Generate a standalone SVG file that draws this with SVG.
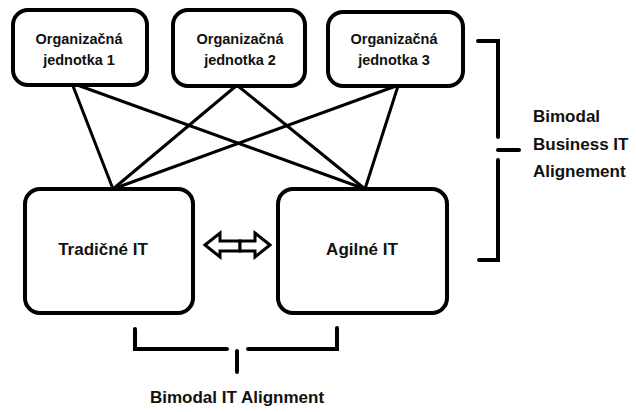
<svg xmlns="http://www.w3.org/2000/svg" width="636" height="412" viewBox="0 0 636 412">
  <style>
    .box { fill: #fff; stroke: #000; stroke-width: 4; }
    .link { stroke: #000; stroke-width: 3; fill: none; stroke-linecap: round; }
    .brace { stroke: #000; stroke-width: 4; fill: none; stroke-linecap: round; stroke-linejoin: miter; }
    text { font-family: "Liberation Sans", Arial, sans-serif; font-weight: bold; fill: #111; }
    .small { font-size: 14.5px; text-anchor: middle; }
    .big { font-size: 17px; }
  </style>
  <rect width="636" height="412" fill="#fff"/>

  <!-- connectors between units and IT modes -->
  <g id="connectors">
    <line class="link" x1="73" y1="86" x2="113" y2="189"/>
    <line class="link" x1="80" y1="86" x2="365" y2="189"/>
    <line class="link" x1="236" y1="86" x2="113" y2="189"/>
    <line class="link" x1="238" y1="86" x2="365" y2="189"/>
    <line class="link" x1="396" y1="86" x2="113" y2="189"/>
    <line class="link" x1="398" y1="86" x2="365" y2="189"/>
  </g>

  <g id="unit1">
    <rect class="box" x="13" y="10" width="134" height="75" rx="15"/>
    <text class="small" x="79" y="44">Organizačná</text>
    <text class="small" x="79" y="65">jednotka 1</text>
  </g>
  <g id="unit2">
    <rect class="box" x="173" y="10" width="132" height="76" rx="15"/>
    <text class="small" x="240" y="44">Organizačná</text>
    <text class="small" x="240" y="65">jednotka 2</text>
  </g>
  <g id="unit3">
    <rect class="box" x="328" y="12" width="135" height="74" rx="15"/>
    <text class="small" x="394" y="44">Organizačná</text>
    <text class="small" x="394" y="65">jednotka 3</text>
  </g>

  <g id="traditional-it">
    <rect class="box" x="25" y="189" width="168" height="124" rx="15"/>
    <text class="big" x="103" y="255" text-anchor="middle">Tradičné IT</text>
  </g>
  <g id="agile-it">
    <rect class="box" x="278" y="189" width="169" height="124" rx="15"/>
    <text class="big" x="362" y="255" text-anchor="middle">Agilné IT</text>
  </g>

  <!-- two-way arrow between the IT modes -->
  <g id="exchange">
    <path d="M205,245 L220,233 L220,241 L240,241 L240,251 L220,251 L220,257 Z" fill="#fff" stroke="#000" stroke-width="3" stroke-linejoin="miter"/>
    <path d="M270,245 L255,233 L255,241 L240,241 L240,251 L255,251 L255,257 Z" fill="#fff" stroke="#000" stroke-width="3" stroke-linejoin="miter"/>
  </g>

  <!-- business alignment bracket -->
  <g id="business-alignment">
    <polyline class="brace" points="478,41 498,41 498,137"/>
    <line class="brace" x1="498" y1="150" x2="519" y2="150"/>
    <polyline class="brace" points="498,160 498,260 479,260"/>
    <text class="big" x="533" y="122">Bimodal</text>
    <text class="big" x="533" y="150">Business IT</text>
    <text class="big" x="533" y="177">Alignement</text>
  </g>

  <!-- IT alignment bracket -->
  <g id="it-alignment">
    <polyline class="brace" points="135,329 135,349 227,349"/>
    <line class="brace" x1="237" y1="351" x2="237" y2="372"/>
    <polyline class="brace" points="248,349 337,349 337,328"/>
    <text class="big" x="237" y="403" text-anchor="middle">Bimodal IT Alignment</text>
  </g>
</svg>
